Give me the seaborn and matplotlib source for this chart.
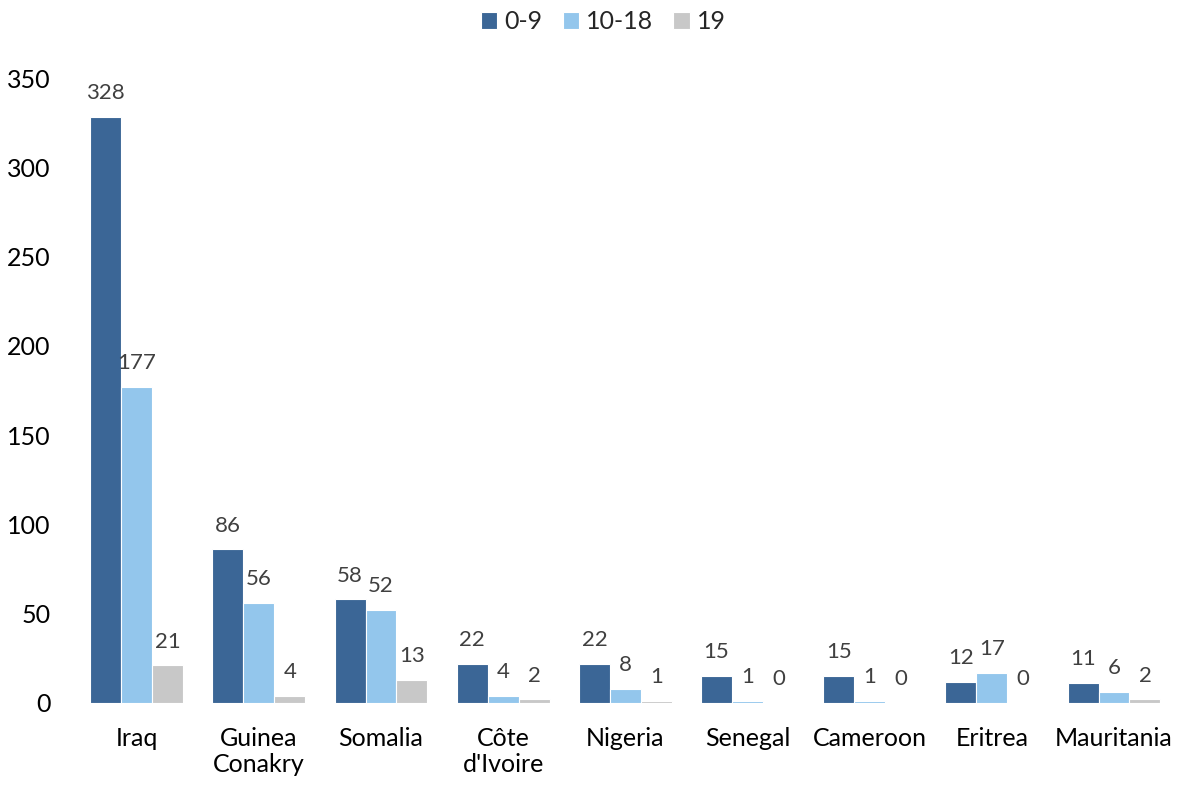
import matplotlib
matplotlib.use("Agg")
import matplotlib.pyplot as plt
import seaborn as sns
import pandas as pd

countries = ["Iraq", "Guinea\nConakry", "Somalia", "Côte\nd'Ivoire", "Nigeria",
             "Senegal", "Cameroon", "Eritrea", "Mauritania"]
age_0_9 = [328, 86, 58, 22, 22, 15, 15, 12, 11]
age_10_18 = [177, 56, 52, 4, 8, 1, 1, 17, 6]
age_19 = [21, 4, 13, 2, 1, 0, 0, 0, 2]
series_names = ["0-9", "10-18", "19"]
palette = ["#3B6696", "#93C6EC", "#C8C8C8"]

df = pd.DataFrame({"country": countries * 3,
                   "group": [series_names[0]] * 9 + [series_names[1]] * 9 + [series_names[2]] * 9,
                   "value": age_0_9 + age_10_18 + age_19})

sns.set_theme(style="white")
plt.rcParams["font.family"] = ["Lato", "DejaVu Sans"]

fig = plt.figure(figsize=(11.81, 7.85), dpi=100)
ax = fig.add_axes([0.064, 0.1045, 0.931, 0.796])

sns.barplot(data=df, x="country", y="value", hue="group", palette=palette,
            width=0.76, gap=0, saturation=1, edgecolor="white", linewidth=0.8, ax=ax)

for cont in ax.containers:
    ax.bar_label(cont, labels=[f"{v:.0f}" for v in cont.datavalues],
                 padding=10, fontsize=16, color="#404040")

ax.set_ylim(0, 350)
ax.set_yticks(range(0, 351, 50))
ax.set_xlabel("")
ax.set_ylabel("")
ax.tick_params(axis="y", labelsize=18, colors="black", pad=18, length=0)
ax.tick_params(axis="x", labelsize=18, colors="black", pad=17, length=0)
for s in ax.spines.values():
    s.set_visible(False)

handles, labels = ax.get_legend_handles_labels()
ax.get_legend().remove()
fig.legend(handles, labels, loc="center", bbox_to_anchor=(0.511, 0.972),
           ncol=3, frameon=False, fontsize=18, handlelength=0.65, handleheight=0.65,
           handletextpad=0.3, columnspacing=0.8)

fig.savefig("out.png", dpi=100, facecolor="white")
